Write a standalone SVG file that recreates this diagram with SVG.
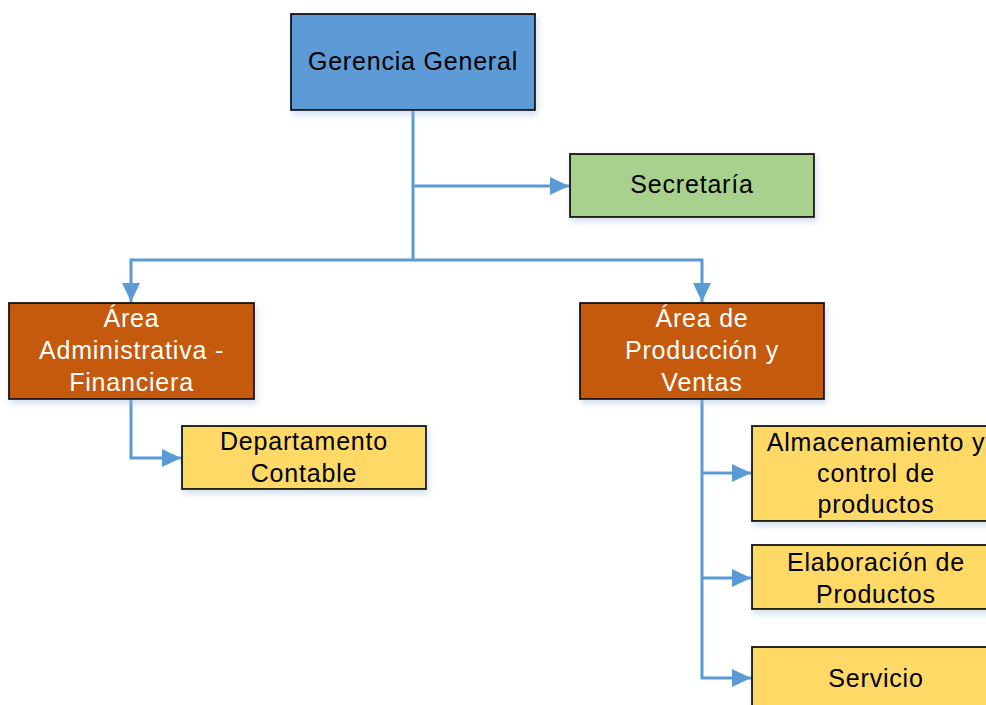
<svg xmlns="http://www.w3.org/2000/svg" width="986" height="705" viewBox="0 0 986 705">
  <style>
    .box { stroke: #111; stroke-width: 1.8; filter: url(#shadow); }
    .blue { fill: #5B9BD5; }
    .green { fill: #A9D18E; }
    .brown { fill: #C55A11; }
    .yellow { fill: #FFD966; }
    text { font-family: "Liberation Sans", Arial, sans-serif; font-size: 25px; letter-spacing: 0.8px; text-anchor: middle; fill: #000; }
    text.light { fill: #fff; }
    .conn { fill: none; stroke: #5B9BD5; stroke-width: 3; }
  </style>
  <defs>
    <filter id="shadow" x="-10%" y="-10%" width="130%" height="140%">
      <feDropShadow dx="2" dy="4" stdDeviation="3" flood-color="#9DB8D8" flood-opacity="0.45"/>
    </filter>
    <marker id="arrow" markerUnits="userSpaceOnUse" markerWidth="20" markerHeight="18" viewBox="0 0 20 18" refX="19" refY="9" orient="auto">
      <path d="M0,0 L19,9 L0,18 Z" fill="#5B9BD5"/>
    </marker>
  </defs>

  <!-- connectors -->
  <g id="connectors">
    <path class="conn" d="M413,110 V260"/>
    <path class="conn" d="M413,186 H569" marker-end="url(#arrow)"/>
    <path class="conn" d="M413,260 H131 V302" marker-end="url(#arrow)"/>
    <path class="conn" d="M413,260 H702 V302" marker-end="url(#arrow)"/>
    <path class="conn" d="M131,399 V458 H181" marker-end="url(#arrow)"/>
    <path class="conn" d="M702,399 V678 H751" marker-end="url(#arrow)"/>
    <path class="conn" d="M702,473 H751" marker-end="url(#arrow)"/>
    <path class="conn" d="M702,578 H751" marker-end="url(#arrow)"/>
  </g>

  <!-- nodes -->
  <g id="gerencia">
    <rect class="box blue" x="291" y="14" width="244" height="96"/>
    <text x="413" y="70">Gerencia General</text>
  </g>
  <g id="secretaria">
    <rect class="box green" x="570" y="154" width="244" height="63"/>
    <text x="692" y="193">Secretaría</text>
  </g>
  <g id="area-administrativa">
    <rect class="box brown" x="9" y="303" width="245" height="96"/>
    <text class="light" x="131.5" y="327">Área</text>
    <text class="light" x="131.5" y="359">Administrativa -</text>
    <text class="light" x="131.5" y="391">Financiera</text>
  </g>
  <g id="departamento-contable">
    <rect class="box yellow" x="182" y="426" width="244" height="63"/>
    <text x="304" y="450">Departamento</text>
    <text x="304" y="482">Contable</text>
  </g>
  <g id="area-produccion">
    <rect class="box brown" x="580" y="303" width="244" height="96"/>
    <text class="light" x="702" y="327">Área de</text>
    <text class="light" x="702" y="359">Producción y</text>
    <text class="light" x="702" y="391">Ventas</text>
  </g>
  <g id="almacenamiento">
    <rect class="box yellow" x="752" y="426" width="248" height="95"/>
    <text x="876" y="451">Almacenamiento y</text>
    <text x="876" y="482">control de</text>
    <text x="876" y="513">productos</text>
  </g>
  <g id="elaboracion">
    <rect class="box yellow" x="752" y="545" width="248" height="64"/>
    <text x="876" y="571">Elaboración de</text>
    <text x="876" y="603">Productos</text>
  </g>
  <g id="servicio">
    <rect class="box yellow" x="752" y="647" width="248" height="64"/>
    <text x="876" y="687">Servicio</text>
  </g>
</svg>
